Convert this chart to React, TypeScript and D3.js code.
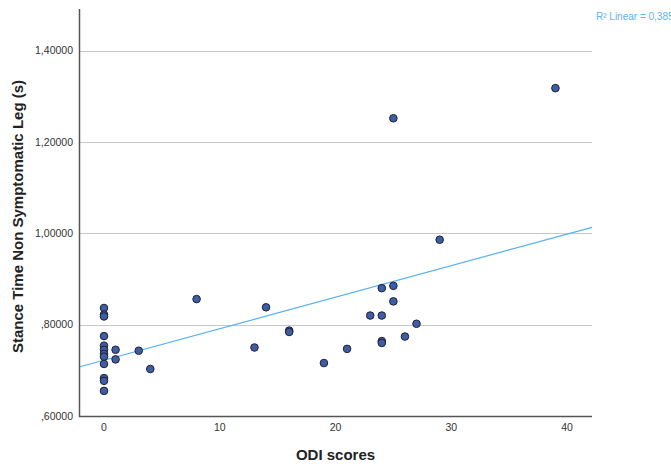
import React, { useEffect, useRef } from "react";
import * as d3 from "d3";

// ODI score and stance time of the non symptomatic leg, one entry per subject
const odiScores = [
  0, 0, 0, 0, 0, 0, 0, 0, 0, 0, 0, 0,
  1, 1, 3, 4, 8, 13, 14, 16, 16, 19, 21, 23,
  24, 24, 24, 24, 25, 25, 25, 26, 27, 29, 39,
];
const stanceTimes = [
  0.8365, 0.822, 0.818, 0.775, 0.754, 0.745, 0.736, 0.73, 0.714, 0.683, 0.677, 0.655,
  0.745, 0.724, 0.743, 0.703, 0.856, 0.75, 0.838, 0.787, 0.784, 0.716, 0.747, 0.82,
  0.82, 0.88, 0.764, 0.76, 0.885, 0.851, 1.252, 0.774, 0.802, 0.986, 1.318,
];
const xTicks = [0, 10, 20, 30, 40];
const yTicks = [0.6, 0.8, 1.0, 1.2, 1.4];
const r2Label = "R² Linear = 0,385";

const fmtY = (v: number) => {
  const s = v.toFixed(5).replace(".", ",");
  return s.startsWith("0") ? s.slice(1) : s;
};

const App = () => {
  const svgRef = useRef<SVGSVGElement>(null);

  useEffect(() => {
    const width = 671;
    const height = 464;
    const svg = d3.select(svgRef.current);
    svg.selectAll("*").remove();
    svg.attr("width", width).attr("height", height);

    const left = 79;
    const right = 592;
    const top = 9;
    const bottom = 416;

    const x = d3.scaleLinear().domain([-2.16, 42.16]).range([left, right]);
    const y = d3.scaleLinear().domain([0.6, 1.4913]).range([bottom, top]);

    const font = "'Liberation Sans', Arial, sans-serif";

    // gridlines
    svg
      .append("g")
      .selectAll("line")
      .data(yTicks.slice(1))
      .enter()
      .append("line")
      .attr("x1", left)
      .attr("x2", right)
      .attr("y1", (d) => Math.round(y(d)) + 0.5)
      .attr("y2", (d) => Math.round(y(d)) + 0.5)
      .attr("stroke", "#c8c8c8")
      .attr("stroke-width", 1);

    // y tick labels
    svg
      .append("g")
      .selectAll("text")
      .data(yTicks)
      .enter()
      .append("text")
      .attr("x", 73)
      .attr("y", (d) => y(d) + 3.5)
      .attr("text-anchor", "end")
      .style("font-family", font)
      .style("font-size", "10.5px")
      .attr("fill", "#333")
      .text((d) => fmtY(d));

    // x tick labels
    svg
      .append("g")
      .selectAll("text")
      .data(xTicks)
      .enter()
      .append("text")
      .attr("x", (d) => x(d))
      .attr("y", 431)
      .attr("text-anchor", "middle")
      .style("font-family", font)
      .style("font-size", "10.5px")
      .attr("fill", "#333")
      .text((d) => d);

    // regression line from least squares fit
    const mx = d3.mean(odiScores) as number;
    const my = d3.mean(stanceTimes) as number;
    let sxy = 0;
    let sxx = 0;
    odiScores.forEach((v, i) => {
      sxy += (v - mx) * (stanceTimes[i] - my);
      sxx += (v - mx) * (v - mx);
    });
    const slope = sxy / sxx;
    const intercept = my - slope * mx;
    const [x0, x1] = x.domain();
    svg
      .append("line")
      .attr("x1", x(x0))
      .attr("y1", y(intercept + slope * x0))
      .attr("x2", x(x1))
      .attr("y2", y(intercept + slope * x1))
      .attr("stroke", "#55b2f0")
      .attr("stroke-width", 1.2);

    // axes
    svg
      .append("path")
      .attr("d", `M${left + 0.5},${top}V${bottom + 0.5}H${right}`)
      .attr("fill", "none")
      .attr("stroke", "#555")
      .attr("stroke-width", 1.5);

    // points
    svg
      .append("g")
      .selectAll("circle")
      .data(odiScores.map((v, i) => ({ odi: v, time: stanceTimes[i] })))
      .enter()
      .append("circle")
      .attr("cx", (d) => x(d.odi))
      .attr("cy", (d) => y(d.time))
      .attr("r", 3.8)
      .attr("fill", "#3f5ca6")
      .attr("stroke", "#1e2230")
      .attr("stroke-width", 1);

    // axis titles
    svg
      .append("text")
      .attr("x", (left + right) / 2)
      .attr("y", 460)
      .attr("text-anchor", "middle")
      .style("font-family", font)
      .style("font-size", "15px")
      .style("font-weight", "bold")
      .attr("fill", "#222")
      .text("ODI scores");

    svg
      .append("text")
      .attr("transform", `translate(23,${(top + bottom) / 2 + 4}) rotate(-90)`)
      .attr("text-anchor", "middle")
      .style("font-family", font)
      .style("font-size", "15px")
      .style("font-weight", "bold")
      .attr("fill", "#222")
      .text("Stance Time Non Symptomatic Leg (s)");

    // R² label
    svg
      .append("text")
      .attr("x", 596)
      .attr("y", 20)
      .style("font-family", font)
      .style("font-size", "10px")
      .attr("fill", "#5ab4f0")
      .text(r2Label);
  }, []);

  return (
    <div style={{ position: "absolute", left: 0, top: 0 }}>
      <svg ref={svgRef} style={{ display: "block" }}></svg>
    </div>
  );
};

export default App;
